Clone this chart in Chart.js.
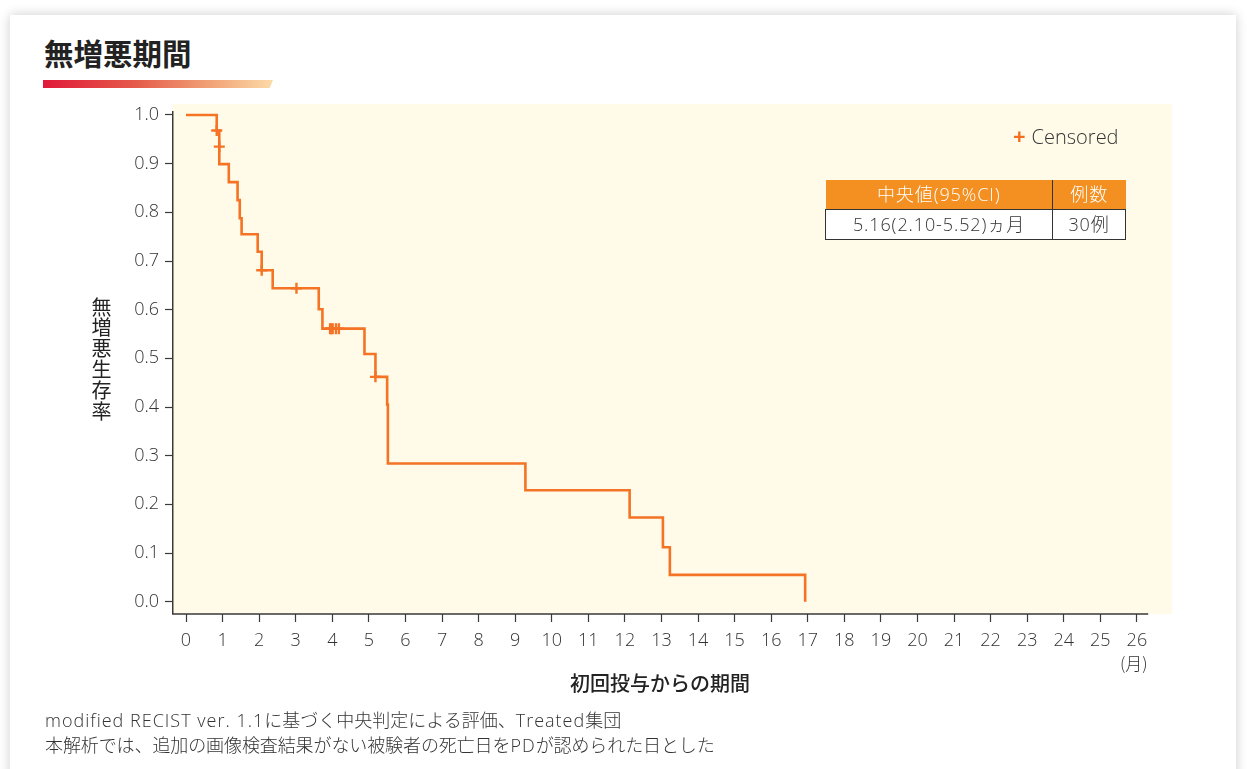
<!DOCTYPE html>
<html lang="ja">
<head>
<meta charset="utf-8">
<title>無増悪期間</title>
<script src="https://cdn.jsdelivr.net/npm/chart.js@4.4.0/dist/chart.umd.min.js"></script>
<style>
  html, body { margin: 0; padding: 0; width: 1247px; height: 769px; overflow: hidden; background: #fff;
    font-family: "Open Sans", "Noto Sans CJK JP", sans-serif; }
  .card { position: absolute; left: 10px; top: 15px; width: 1226px; height: 820px; background: #fff;
    box-shadow: 0 0 11px rgba(0,0,0,0.20); }
  .title { position: absolute; left: 44px; top: 33px; font-family: "Noto Sans CJK JP", sans-serif;
    font-size: 29.5px; font-weight: 700; color: #222; line-height: 38px; }
  .bar { position: absolute; left: 43px; top: 80px; width: 230px; height: 8px;
    background: linear-gradient(90deg, #e0193a 0%, #e55a4a 40%, #f2a77a 75%, #fcdaa8 100%);
    clip-path: polygon(0 0, 100% 0, 98.6% 100%, 0 100%); }
  #chartBox { position: absolute; left: 0; top: 0; width: 1247px; height: 769px; }
  .ytitle { position: absolute; left: 90px; top: 297px; writing-mode: vertical-rl; text-orientation: upright;
    font-family: "Noto Sans CJK JP", sans-serif; font-size: 20px; line-height: 22px; letter-spacing: 0.9px; color: #222; }
  .xtitle { position: absolute; left: 510px; width: 300px; text-align: center; top: 670px;
    font-family: "Noto Sans CJK JP", sans-serif; font-size: 20px; font-weight: 500; color: #222; line-height: 26px; }
  .unit { position: absolute; left: 1120px; top: 652px; font-family: "Noto Sans CJK JP", sans-serif;
    font-size: 17px; color: #333; line-height: 22px; font-weight: 300; }
  .legend { position: absolute; left: 1013px; top: 121px; font-size: 20px; font-weight: 300; color: #333;
    line-height: 28px; white-space: nowrap; }
  .legend .mk { color: #f26f1f; font-weight: 700; font-size: 22px; margin-right: 6px; }
  table.stats { position: absolute; left: 825px; top: 180px; border-collapse: collapse; font-size: 18px;
    font-weight: 300; letter-spacing: 0.9px; }
  table.stats td { height: 29px; padding: 0; text-align: center; line-height: 29px; }
  table.stats tr.head td { background: #f39021; color: #fff; }
  table.stats tr.head td.c1 { border-right: 1.5px solid #333; }
  table.stats tr.body td { border: 1.5px solid #333; color: #333; background: #fff; }
  table.stats td.c1 { width: 226px; }
  table.stats td.c2 { width: 72px; }
  .notes { position: absolute; left: 45px; top: 708px; font-size: 18px; font-weight: 300; line-height: 25px; color: #333;
    white-space: nowrap; }
  .notes .lt { letter-spacing: 1px; }
  .notes .jp { letter-spacing: -0.1px; }
</style>
</head>
<body>
<div class="card"></div>
<div class="title">無増悪期間</div>
<div class="bar"></div>
<div id="chartBox"><canvas id="pfs" width="1247" height="769"></canvas></div>
<div class="ytitle">無増悪生存率</div>
<div class="xtitle">初回投与からの期間</div>
<div class="unit">(月)</div>
<div class="legend"><span class="mk">+</span>Censored</div>
<table class="stats">
  <tr class="head"><td class="c1">中央値(95%CI)</td><td class="c2">例数</td></tr>
  <tr class="body"><td class="c1">5.16(2.10-5.52)ヵ月</td><td class="c2">30例</td></tr>
</table>
<div class="notes"><span class="lt">modified RECIST ver. 1.1</span>に基づく中央判定による評価、<span class="lt">Treated</span>集団<br><span class="jp">本解析では、追加の画像検査結果がない被験者の死亡日を</span><span class="lt">PD</span><span class="jp">が認められた日とした</span></div>

<script>
// Kaplan–Meier step curve: time (months) and survival after each step
const eventTimes = [0, 0.84, 0.91, 0.91, 1.17, 1.41, 1.47, 1.52, 1.96, 2.07, 2.37, 3.63, 3.73,
                    4.88, 5.18, 5.50, 5.52, 9.28, 12.13, 13.04, 13.23, 16.93];
const survival   = [1.0, 0.968, 0.935, 0.899, 0.862, 0.825, 0.788, 0.755, 0.719, 0.681, 0.644, 0.601, 0.561,
                    0.509, 0.462, 0.405, 0.284, 0.229, 0.173, 0.112, 0.055, 0.0];

// Censored observations
const censorTimes = [0.84, 0.91, 2.07, 3.02, 3.94, 3.97, 4.01, 4.10, 4.18, 5.18];
const censorSurv  = [0.968, 0.935, 0.681, 0.644, 0.561, 0.561, 0.561, 0.561, 0.561, 0.462];

// Axis ticks
const xTickValues = [0,1,2,3,4,5,6,7,8,9,10,11,12,13,14,15,16,17,18,19,20,21,22,23,24,25,26];
const yTickValues = [0.0,0.1,0.2,0.3,0.4,0.5,0.6,0.7,0.8,0.9,1.0];
const yTickLabels = ['0.0','0.1','0.2','0.3','0.4','0.5','0.6','0.7','0.8','0.9','1.0'];

const ORANGE = '#f47324';
const AXIS = '#3a3a3a';

const curvePoints = eventTimes.map((t, i) => ({ x: t, y: survival[i] }));
const censorPoints = censorTimes.map((t, i) => ({ x: t, y: censorSurv[i] }));

const plotBackground = {
  id: 'plotBackground',
  beforeDraw(chart) {
    const { ctx, chartArea: a } = chart;
    ctx.save();
    ctx.fillStyle = '#fffbe8';
    ctx.fillRect(a.left, a.top, a.right - a.left, a.bottom - a.top);
    ctx.restore();
  }
};

// Axis lines: y axis from just above 1.0 down to the base, x axis up to just past 26
const axisLines = {
  id: 'axisLines',
  afterDraw(chart) {
    const { ctx, chartArea: a, scales } = chart;
    const yTop = scales.y.getPixelForValue(1.0) - 4;
    const xEnd = scales.x.getPixelForValue(26.31);
    ctx.save();
    ctx.strokeStyle = AXIS;
    ctx.lineWidth = 1.5;
    ctx.beginPath();
    ctx.moveTo(a.left + 0.75, yTop);
    ctx.lineTo(a.left + 0.75, a.bottom);
    ctx.lineTo(xEnd, a.bottom);
    ctx.stroke();
    ctx.restore();
  }
};

const tickFont = { family: '"Open Sans", "Noto Sans CJK JP", sans-serif', size: 18, weight: 300 };

new Chart(document.getElementById('pfs'), {
  type: 'line',
  data: {
    datasets: [
      {
        label: 'PFS',
        data: curvePoints,
        stepped: true,
        borderColor: ORANGE,
        borderWidth: 2.6,
        pointRadius: 0,
        fill: false,
        order: 2
      },
      {
        label: 'Censored',
        type: 'scatter',
        data: censorPoints,
        showLine: false,
        pointStyle: 'cross',
        pointRadius: 5.5,
        pointBorderWidth: 2.4,
        borderColor: ORANGE,
        backgroundColor: ORANGE,
        order: 1
      }
    ]
  },
  options: {
    responsive: false,
    animation: false,
    layout: { padding: { left: 0, top: 104, right: 75, bottom: 95 } },
    plugins: { legend: { display: false }, tooltip: { enabled: false }, title: { display: false } },
    scales: {
      x: {
        type: 'linear',
        min: -0.383,
        max: 26.96,
        afterBuildTicks: s => { s.ticks = xTickValues.map(v => ({ value: v })); },
        afterFit: s => { s.height = 60; },
        ticks: { autoSkip: false, maxRotation: 0, padding: 8, color: '#333', font: tickFont,
                 callback: v => String(v) },
        grid: { drawOnChartArea: false, drawTicks: true, tickLength: 8, tickColor: AXIS, tickWidth: 1.2 },
        border: { display: false }
      },
      y: {
        type: 'linear',
        min: -0.0253,
        max: 1.0226,
        afterBuildTicks: s => { s.ticks = yTickValues.map(v => ({ value: v })); },
        afterFit: s => { s.width = 172; },
        ticks: { autoSkip: false, padding: 6, color: '#333', font: tickFont,
                 callback: v => yTickLabels[yTickValues.findIndex(t => Math.abs(t - v) < 1e-6)] },
        grid: { drawOnChartArea: false, drawTicks: true, tickLength: 7, tickColor: AXIS, tickWidth: 1.2 },
        border: { display: false }
      }
    }
  },
  plugins: [plotBackground, axisLines]
});
</script>
</body>
</html>
